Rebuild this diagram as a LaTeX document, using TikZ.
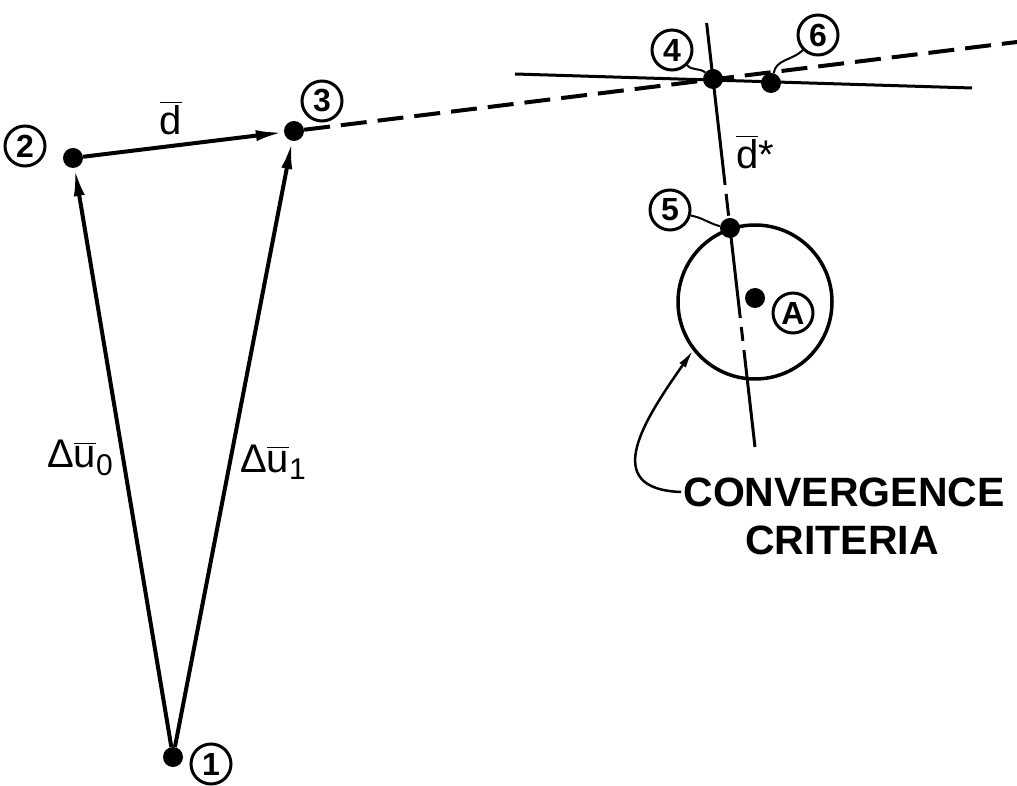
\documentclass[tikz,border=0pt]{standalone}
\usepackage{fontspec}
\setmainfont{Liberation Sans}
\usepackage{amsmath}
\usetikzlibrary{arrows.meta,calc}
\newcommand{\ovl}[1]{$\overline{\mbox{#1}}$}
\newcommand{\sub}[1]{\raisebox{-0.35ex}{\fontsize{30}{30}\selectfont #1}}

\begin{document}
\begin{tikzpicture}[
  x=1pt, y=1pt,
  >={Latex[length=28pt,width=11pt]},
  dot/.style={circle, fill, inner sep=0pt, minimum size=20pt},
  tag/.style={circle, draw, line width=3pt, inner sep=0pt, minimum size=40pt, font=\fontsize{32}{32}\selectfont\bfseries},
  lbl/.style={font=\fontsize{40}{40}\selectfont, inner sep=0pt},
  caption/.style={font=\fontsize{41}{41}\selectfont\bfseries, inner sep=2pt},
  vec/.style={->, line width=4pt},
  guide/.style={line width=3pt},
  dashline/.style={line width=4pt, dash pattern=on 26pt off 11pt},
  leader/.style={line width=2pt},
  pointer/.style={-{Latex[length=18pt,width=8pt]}, line width=2.5pt}
]
\useasboundingbox (0,0) rectangle (1017,785);

\node[dot] (p1) at (173,28) {};
\node[dot] (p2) at (73,627) {};
\node[dot] (p3) at (294,654) {};
\node[dot] (p4) at (713,706) {};
\node[dot] (p5) at (730,557) {};
\node[dot] (p6) at (771,702) {};
\node[dot] (pA) at (755,487) {};
\node[circle, draw, line width=3.5pt, inner sep=0pt, minimum size=154pt] (ring) at (755,483) {};

\node[tag] (t1) at (211,21) {1};
\node[tag] (t2) at (25,639) {2};
\node[tag] (t3) at (322,684) {3};
\node[tag] (t4) at (672,735) {4};
\node[tag] (t5) at (670,575) {5};
\node[tag] (t6) at (818,750) {6};
\node[tag] (tA) at (793,472) {A};

\node[lbl] (dbar) at (171,667) {\ovl{d}};
\node[lbl] (du0) at (80,327) {Δ\ovl{u}\sub{0}};
\node[lbl] (du1) at (273,323) {Δ\ovl{u}\sub{1}};
\node[lbl] (dstar) at (755,633) {\ovl{d}*};
\node[caption] (conv1) at (844,293) {CONVERGENCE};
\node[caption] (conv2) at (842,245) {CRITERIA};

\draw[vec] (p1) -- (p2);
\draw[vec] (p1) -- (p3);
\draw[vec] (p2) -- (p3);

\coordinate (far) at (1017,743);
\draw[dashline] (p3) -- (far);

\coordinate (hl) at (515,711);
\coordinate (hr) at (972,697);
\draw[guide] (hl) -- (hr);

\coordinate (s0) at ($(p4)!-0.376!(p5)$);
\coordinate (s1) at ($(p4)!0.564!(p5)$);
\coordinate (s2) at ($(p4)!1.604!(p5)$);
\coordinate (s3) at ($(p4)!1.819!(p5)$);
\coordinate (s4) at ($(p4)!2.47!(p5)$);
\draw[guide] (s0) -- (p4.center) -- (s1);
\draw[guide, dash pattern=on 22pt off 9pt] (s1) -- (p5.center);
\draw[guide] (p5.center) -- (s2);
\draw[guide, dash pattern=on 14pt off 18pt, dash phase=23pt] (s2) -- (s3);
\draw[guide] (s3) -- (s4);

\draw[leader] (t4.-45) to[out=-50,in=140] (p4.140);
\draw[leader] (t5.-15) to[out=-10,in=165] (p5.170);
\draw[leader] (t6.225) to[out=225,in=80] (p6.75);
\draw[pointer] (conv1.west) to[out=178,in=235,looseness=1.5] (ring.218);
\end{tikzpicture}
\end{document}
